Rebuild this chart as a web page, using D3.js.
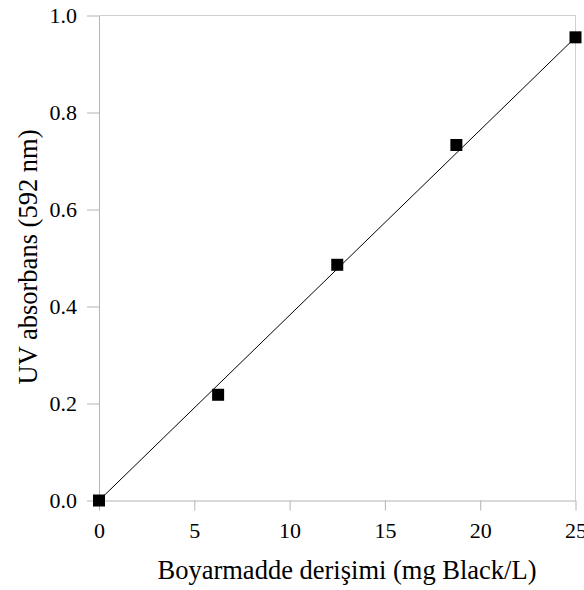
<!DOCTYPE html>
<html>
<head>
<meta charset="utf-8">
<script src="https://cdn.jsdelivr.net/npm/d3@7"></script>
<style>
  html, body { margin: 0; padding: 0; background: #fff; }
  svg { display: block; }
</style>
</head>
<body>
<svg id="chart" width="584" height="590"></svg>
<script>
// Calibration data: dye concentration vs. UV absorbance at 592 nm
const concentration = [0, 6.25, 12.5, 18.75, 25];
const absorbance = [0.0, 0.218, 0.486, 0.733, 0.955];
// Linear fit endpoints
const fitX = [0, 25];
const fitY = [0.0, 0.955];
const xTicks = [0, 5, 10, 15, 20, 25];
const yTicks = [0.0, 0.2, 0.4, 0.6, 0.8, 1.0];

const FONT = "Liberation Serif";
const svg = d3.select("#chart");
const W = 584, H = 590;
const margin = { left: 99, right: W - 575.5, top: 15.5, bottom: H - 500.5 };

const x = d3.scaleLinear().domain([0, 25]).range([margin.left, W - margin.right]);
const y = d3.scaleLinear().domain([0, 1]).range([H - margin.bottom, margin.top]);

const axisColor = "#b4b4b4";

// Frame (top and right)
svg.append("path")
  .attr("d", `M${x(0)},${y(1)}H${x(25)}V${y(0)}`)
  .attr("fill", "none").attr("stroke", "#d0d0d0").attr("stroke-width", 1);

// X axis
const gx = svg.append("g").attr("transform", `translate(0,${y(0)})`)
  .call(d3.axisBottom(x).tickValues(xTicks).tickFormat(d3.format("d")).tickSize(10).tickSizeOuter(0).tickPadding(12));
// Y axis
const gy = svg.append("g").attr("transform", `translate(${x(0)},0)`)
  .call(d3.axisLeft(y).tickValues(yTicks).tickFormat(d3.format(".1f")).tickSize(12).tickSizeOuter(0).tickPadding(10));

[gx, gy].forEach(g => {
  g.attr("font-family", FONT).attr("font-size", 22);
  g.select(".domain").attr("stroke", axisColor);
  g.selectAll(".tick line").attr("stroke", axisColor);
  g.selectAll(".tick text").attr("fill", "#000");
});

// Fit line
svg.append("line")
  .attr("x1", x(fitX[0])).attr("y1", y(fitY[0]))
  .attr("x2", x(fitX[1])).attr("y2", y(fitY[1]))
  .attr("stroke", "#000").attr("stroke-width", 1);

// Markers
const s = 12;
svg.append("g").selectAll("rect")
  .data(concentration.map((c, i) => [c, absorbance[i]]))
  .join("rect")
  .attr("x", d => x(d[0]) - s / 2)
  .attr("y", d => y(d[1]) - s / 2)
  .attr("width", s).attr("height", s)
  .attr("fill", "#000");

// Axis titles
svg.append("text")
  .attr("x", 347).attr("y", 579)
  .attr("text-anchor", "middle")
  .attr("font-family", FONT).attr("font-size", 26.5)
  .text("Boyarmadde derişimi (mg Black/L)");

svg.append("text")
  .attr("transform", `translate(36.5,257) rotate(-90)`)
  .attr("text-anchor", "middle")
  .attr("font-family", FONT).attr("font-size", 26.5)
  .text("UV absorbans (592 nm)");
</script>
</body>
</html>
